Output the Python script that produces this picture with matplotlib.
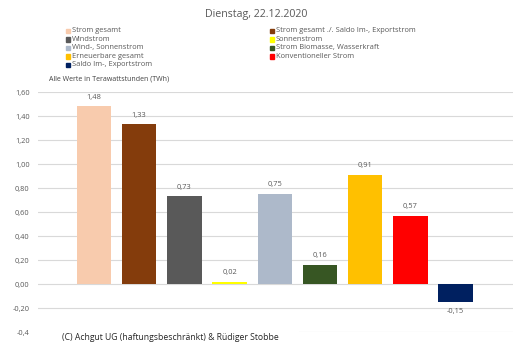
import matplotlib.pyplot as plt
from matplotlib.patches import Rectangle

# Strommix Dienstag, 22.12.2020 (TWh)
labels = ["Strom gesamt", "Strom gesamt ./. Saldo Im-, Exportstrom", "Windstrom",
          "Sonnenstrom", "Wind-, Sonnenstrom", "Strom Biomasse, Wasserkraft",
          "Erneuerbare gesamt", "Konventioneller Strom", "Saldo Im-, Exportstrom"]
values = [1.48, 1.33, 0.73, 0.02, 0.75, 0.16, 0.91, 0.57, -0.15]
colors = ["#F8CBAD", "#843C0C", "#595959", "#FFFF00", "#ADB9CA",
          "#375623", "#FFC000", "#FF0000", "#002060"]
yticks = [-0.4, -0.2, 0.0, 0.2, 0.4, 0.6, 0.8, 1.0, 1.2, 1.4, 1.6]

plt.rcParams['font.family'] = ['Open Sans', 'DejaVu Sans']
txt = "#595959"

fig = plt.figure(figsize=(5.13, 3.51), dpi=100)
ax = fig.add_axes([38/513, 19/351, 1 - 38/513, 240/351])

x = list(range(len(values)))
ax.bar(x, values, width=0.76, color=colors, zorder=3)

for xi, v in zip(x, values):
    s = f"{v:.2f}".replace(".", ",")
    off = 4 if v >= 0 else -4
    ax.annotate(s, (xi, v), xytext=(0, off), textcoords="offset points",
                ha="center", va="bottom" if v >= 0 else "top", fontsize=5.4, color=txt)

ax.set_xlim(-1.24, 9.27)
ax.set_ylim(-0.4, 1.6)
ax.set_yticks(yticks)
ticklabels = [f"{t:.2f}".replace(".", ",") for t in yticks]
ticklabels[0] = "-0,4"
ax.set_yticklabels(ticklabels)
ax.set_xticks([])
ax.tick_params(axis="y", length=0, pad=6, labelsize=5.3, labelcolor=txt)
ax.grid(axis="y", color="#D9D9D9", linewidth=0.8, zorder=0)
for sp in ax.spines.values():
    sp.set_visible(False)

fig.text(0.5, 1 - 14/351, "Dienstag, 22.12.2020", ha="center", va="center",
         fontsize=7.7, color=txt)

# Legende, zeilenweise in zwei Spalten
for i, (name, c) in enumerate(zip(labels, colors)):
    col, row = i % 2, i // 2
    lx = 66 if col == 0 else 270
    ly = 31 + row * 8.5
    fig.add_artist(Rectangle((lx/513, 1 - (ly + 2.2)/351), 4.4/513, 4.4/351,
                             transform=fig.transFigure, color=c))
    fig.text((lx + 6)/513, 1 - ly/351, name, ha="left", va="center",
             fontsize=5.4, color=txt)

fig.text(49/513, 1 - 79/351, "Alle Werte in Terawattstunden (TWh)", ha="left",
         va="center", fontsize=5.0, color="#404040")

fig.add_artist(Rectangle((38/513, 1 - 347/351), 260/513, 20/351,
                         transform=fig.transFigure, color="white", zorder=5))
fig.text(62/513, 1 - 338/351, "(C) Achgut UG (haftungsbeschränkt) & Rüdiger Stobbe",
         ha="left", va="center", fontsize=6.2, color="#262626", zorder=6)

fig.savefig("out.png", dpi=100)
